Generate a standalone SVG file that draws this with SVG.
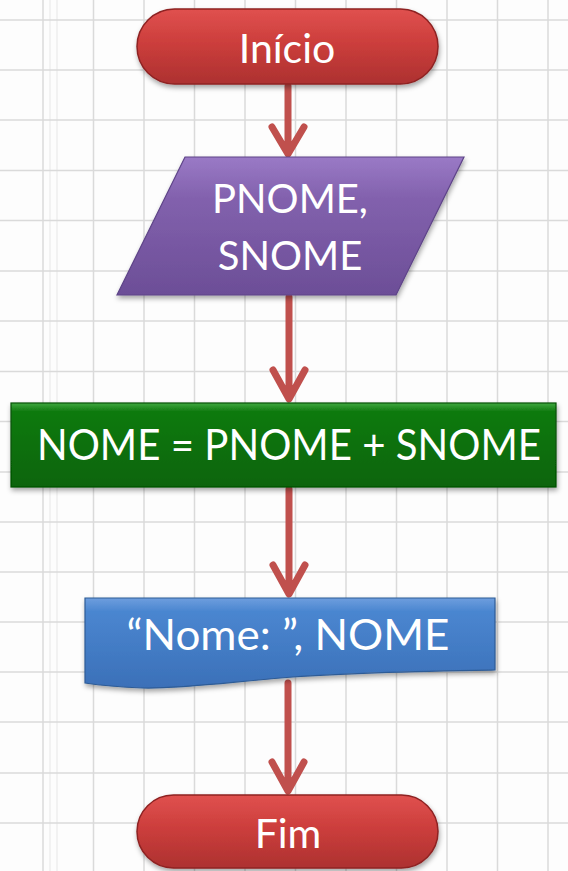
<svg xmlns="http://www.w3.org/2000/svg" width="568" height="871" viewBox="0 0 568 871">
  <defs>
    <style>
      .grid line { stroke: #dadada; stroke-width: 1.5; }
      .gridf line { stroke: #ebebeb; stroke-width: 1.2; }
      .lbl { font-family: Lato, "Liberation Sans", sans-serif; fill: #ffffff; text-anchor: middle; }
      .conn { stroke: #c0504d; stroke-width: 7; fill: none; stroke-linecap: round; stroke-linejoin: round; }
    </style>
    <linearGradient id="gRed" x1="0" y1="0" x2="0" y2="1">
      <stop offset="0" stop-color="#e0514f"/>
      <stop offset="0.45" stop-color="#cc3e3c"/>
      <stop offset="1" stop-color="#ad3130"/>
    </linearGradient>
    <linearGradient id="gPurple" x1="0" y1="0" x2="0" y2="1">
      <stop offset="0" stop-color="#9a7ac6"/>
      <stop offset="0.3" stop-color="#8261ad"/>
      <stop offset="1" stop-color="#6c4e97"/>
    </linearGradient>
    <linearGradient id="gGreen" x1="0" y1="0" x2="0" y2="1">
      <stop offset="0" stop-color="#3ea83e"/>
      <stop offset="0.1" stop-color="#0f7a0f"/>
      <stop offset="1" stop-color="#076407"/>
    </linearGradient>
    <linearGradient id="gBlue" x1="0" y1="0" x2="0" y2="1">
      <stop offset="0" stop-color="#6e9ede"/>
      <stop offset="0.15" stop-color="#4a86d0"/>
      <stop offset="1" stop-color="#3b70b8"/>
    </linearGradient>
    <filter id="sh" x="-10%" y="-20%" width="120%" height="150%">
      <feDropShadow dx="1" dy="3" stdDeviation="2.5" flood-color="#000" flood-opacity="0.35"/>
    </filter>
  </defs>

  <rect width="568" height="871" fill="#fdfdfd"/>

  <g class="gridf">
    <line x1="50" y1="0" x2="50" y2="871"/>
    <line x1="57" y1="0" x2="57" y2="871"/>
  </g>
  <g class="grid">
    <line x1="43" y1="0" x2="43" y2="871"/>
    <line x1="93.5" y1="0" x2="93.5" y2="871"/>
    <line x1="144" y1="0" x2="144" y2="871"/>
    <line x1="194.5" y1="0" x2="194.5" y2="871"/>
    <line x1="245" y1="0" x2="245" y2="871"/>
    <line x1="295.5" y1="0" x2="295.5" y2="871"/>
    <line x1="346" y1="0" x2="346" y2="871"/>
    <line x1="396.5" y1="0" x2="396.5" y2="871"/>
    <line x1="447" y1="0" x2="447" y2="871"/>
    <line x1="497.5" y1="0" x2="497.5" y2="871"/>
    <line x1="548" y1="0" x2="548" y2="871"/>
    <line x1="0" y1="20" x2="568" y2="20"/>
    <line x1="0" y1="70" x2="568" y2="70"/>
    <line x1="0" y1="120" x2="568" y2="120"/>
    <line x1="0" y1="170.5" x2="568" y2="170.5"/>
    <line x1="0" y1="220.5" x2="568" y2="220.5"/>
    <line x1="0" y1="271" x2="568" y2="271"/>
    <line x1="0" y1="321" x2="568" y2="321"/>
    <line x1="0" y1="371.5" x2="568" y2="371.5"/>
    <line x1="0" y1="421.5" x2="568" y2="421.5"/>
    <line x1="0" y1="472" x2="568" y2="472"/>
    <line x1="0" y1="522" x2="568" y2="522"/>
    <line x1="0" y1="572" x2="568" y2="572"/>
    <line x1="0" y1="622" x2="568" y2="622"/>
    <line x1="0" y1="672" x2="568" y2="672"/>
    <line x1="0" y1="722" x2="568" y2="722"/>
    <line x1="0" y1="773" x2="568" y2="773"/>
    <line x1="0" y1="823" x2="568" y2="823"/>
  </g>

  <g id="connectors">
    <path class="conn" d="M288,86 V152 M272,127 L288,154 L304,127"/>
    <path class="conn" d="M289,297 V398 M273,370 L289,399 L305,370"/>
    <path class="conn" d="M289,489 V593 M273,565 L289,594 L305,565"/>
    <path class="conn" d="M288,683 V790 M272,762 L288,791 L304,762"/>
  </g>

  <g id="inicio">
    <rect x="137" y="9" width="301" height="75" rx="37.5" fill="url(#gRed)" stroke="#8e2222" stroke-width="1.5" filter="url(#sh)"/>
    <text class="lbl" x="287" y="63" font-size="41">Início</text>
  </g>

  <g id="entrada">
    <polygon points="185,157 464,157 396,295 117,295" fill="url(#gPurple)" stroke="#5e4488" stroke-width="1.2" filter="url(#sh)"/>
    <text class="lbl" x="290" y="213" font-size="40">PNOME,</text>
    <text class="lbl" x="290" y="270" font-size="40">SNOME</text>
  </g>

  <g id="processo">
    <rect x="11" y="403" width="545" height="84" fill="url(#gGreen)" stroke="#055005" stroke-width="1.2" filter="url(#sh)"/>
    <text class="lbl" x="289" y="460" font-size="42" textLength="504" lengthAdjust="spacingAndGlyphs">NOME = PNOME + SNOME</text>
  </g>

  <g id="saida">
    <path d="M85,598 H495 V670 C430,671 360,672 293,677 C230,682 180,689 143,688 C118,687 98,685 85,683 Z" fill="url(#gBlue)" stroke="#2f5c96" stroke-width="1.2" filter="url(#sh)"/>
    <text class="lbl" x="288" y="650" font-size="42" textLength="323" lengthAdjust="spacingAndGlyphs">“Nome: ”, NOME</text>
  </g>

  <g id="fim">
    <rect x="137" y="795" width="301" height="73" rx="36.5" fill="url(#gRed)" stroke="#8e2222" stroke-width="1.5" filter="url(#sh)"/>
    <text class="lbl" x="288" y="848" font-size="41">Fim</text>
  </g>
</svg>
